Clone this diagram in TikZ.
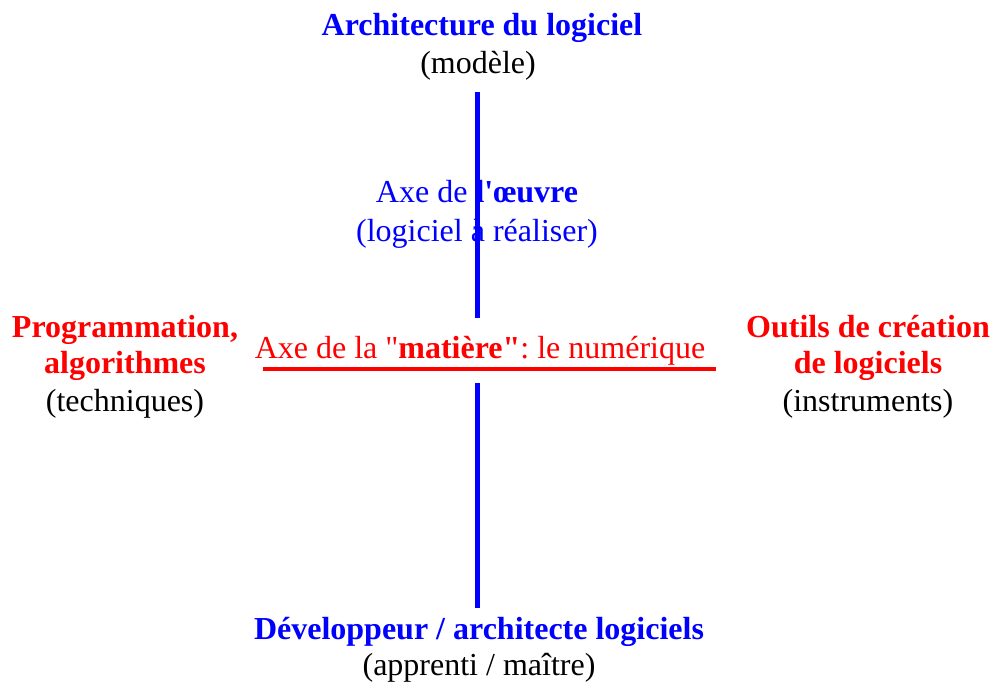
\documentclass[tikz,border=0pt]{standalone}
\usepackage{fontspec}
\setmainfont{Liberation Serif}[Ligatures=TeXOff]
\frenchspacing
\definecolor{myblue}{RGB}{0,0,255}
\definecolor{myred}{RGB}{255,0,0}
\tikzset{
  lbl/.style={anchor=base, inner sep=0pt, font=\fontsize{32}{37}\selectfont, align=center},
  bluetxt/.style={lbl, text=myblue},
  redtxt/.style={lbl, text=myred},
  blktxt/.style={lbl, text=black},
  vaxis/.style={draw=myblue, line width=5pt},
  haxis/.style={draw=myred, line width=4pt},
}
\begin{document}
\begin{tikzpicture}[x=1pt,y=-1pt]
\useasboundingbox (0,0) rectangle (994,682);
% top
\node[bluetxt] (top) at (482,36) {\textbf{Architecture du logiciel}};
\node[blktxt] (topsub) at (478,74) {(modèle)};
% oeuvre axis label
\node[bluetxt] (oeuvre) at (477,203) {Axe de \textbf{l'œuvre}};
\node[bluetxt] (oeuvresub) at (477,241) {(logiciel à réaliser)};
% matiere
\node[redtxt] (matiere) at (480,358) {Axe de la "\textbf{matière"}: le numérique};
% left
\node[redtxt] (left1) at (125,337) {\textbf{Programmation,}};
\node[redtxt] (left2) at (125,373) {\textbf{algorithmes}};
\node[blktxt] (left3) at (125,411) {(techniques)};
% right
\node[redtxt] (right1) at (868,337) {\textbf{Outils de création}};
\node[redtxt] (right2) at (868,373) {\textbf{de logiciels}};
\node[blktxt] (right3) at (868,411) {(instruments)};
% bottom
\node[bluetxt] (bot) at (479,639) {\textbf{Développeur / architecte logiciels}};
\node[blktxt] (botsub) at (479,675) {(apprenti / maître)};
% axes
\coordinate (vt1) at (477,92);
\coordinate (vt2) at (477,318);
\coordinate (vb1) at (477,383);
\coordinate (vb2) at (477,608);
\coordinate (hl) at (263,369);
\coordinate (hr) at (716,369);
\draw[vaxis] (vt1) -- (vt2);
\draw[vaxis] (vb1) -- (vb2);
\draw[haxis] (hl) -- (hr);
\end{tikzpicture}
\end{document}
